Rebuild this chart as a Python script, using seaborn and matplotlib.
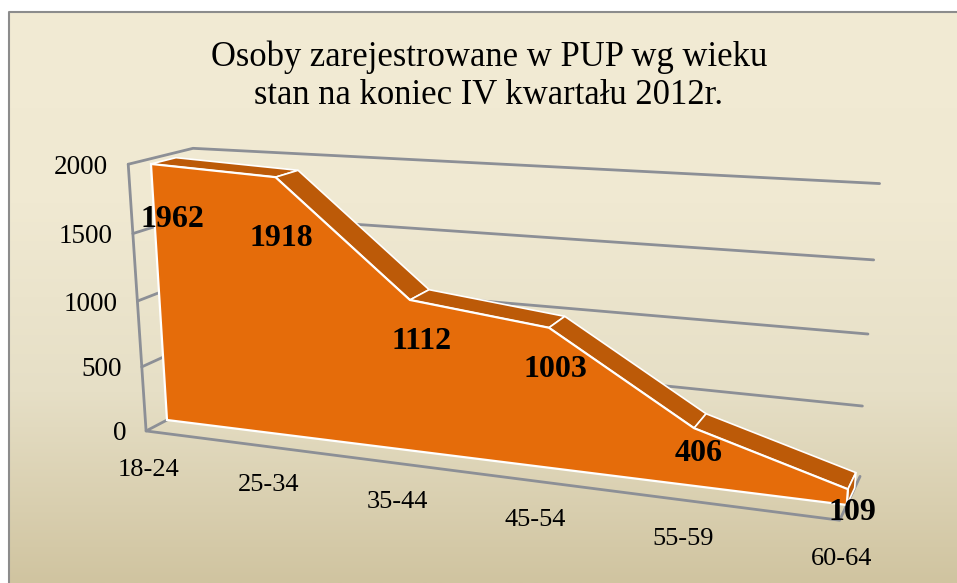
import numpy as np
import pandas as pd
import matplotlib
matplotlib.use("Agg")
import matplotlib.pyplot as plt
import seaborn as sns

sns.set_theme(style="white")
plt.rcParams['font.family'] = ['Liberation Serif', 'DejaVu Serif']

title = "Osoby zarejestrowane w PUP wg wieku\nstan na koniec IV kwartału 2012r."
categories = ["18-24", "25-34", "35-44", "45-54", "55-59", "60-64"]
values = [1962, 1918, 1112, 1003, 406, 109]
value_ticks = [0, 500, 1000, 1500, 2000]

# label nudges in pixels, the original ones were placed by hand
label_offsets = [(21, 56), (6, 61), (12, 42), (7, 42), (5, 25), (4, 23)]

ORANGE = "#E56C0A"
DARK_ORANGE = "#BC5A08"
GRID = "#8C8F96"

# perspective camera fitted to the picture: (category, value/2000, depth) -> pixels
CAMERA = np.array([
    [109.7, -23.9, 28.3, 167.0],
    [1.34, -269.2, -2.0, 420.0],
    [-0.031, -0.05, 0.0253, 1.0],
])
WALL_FRONT = -0.85
AREA_FRONT = 0.0
AREA_BACK = 1.0
WALL_BACK = 1.72


def project(cat, val, depth):
    p = CAMERA @ np.array([cat, val / 2000, depth, 1.0])
    return p[0] / p[2], p[1] / p[2]


def draw_lines(ax, segments, color, lw):
    # segments: list of point lists in (category, value, depth)
    rows = []
    for n, seg in enumerate(segments):
        for k, pt in enumerate(seg):
            px, py = project(*pt)
            rows.append({"seg": n, "order": k, "px": px, "py": py})
    df = pd.DataFrame(rows)
    sns.lineplot(data=df, x="px", y="py", units="seg", estimator=None, sort=False,
                 color=color, lw=lw, ax=ax, legend=False)


def main():
    fig = plt.figure(figsize=(9.57, 5.83), dpi=100, facecolor="white")
    ax = fig.add_axes([0, 0, 1, 1])

    # slide background
    gradient = np.linspace(0, 1, 256).reshape(-1, 1)
    cmap = matplotlib.colors.LinearSegmentedColormap.from_list(
        "bg", ["#F2EBD4", "#F0E9D2", "#E6DFC6", "#D0C4A0"], N=256)
    ax.imshow(gradient, cmap=cmap, aspect="auto", extent=(9, 957, 583, 12), zorder=0)
    ax.plot([9, 9, 957], [583, 12, 12], color="#8C8C8C", lw=1.5, zorder=1)

    last = len(values) - 1

    # walls and gridlines, back lines stop a little short of the last category
    wall = [[(0, v, WALL_FRONT), (0, v, WALL_BACK), (last - 0.02, v, WALL_BACK)] for v in value_ticks[1:]]
    wall.append([(0, 0, WALL_BACK), (0, 0, WALL_FRONT), (last, 0, WALL_FRONT), (last, 0, WALL_BACK)])
    wall.append([(0, 0, WALL_FRONT), (0, 2000, WALL_FRONT)])
    draw_lines(ax, wall, GRID, 2.0)

    # top faces of the 3D area
    cats = list(range(len(values)))
    for a, b in zip(cats[:-1], cats[1:]):
        face = [project(a, values[a], AREA_FRONT), project(b, values[b], AREA_FRONT),
                project(b, values[b], AREA_BACK), project(a, values[a], AREA_BACK)]
        ax.fill(*zip(*face), facecolor=DARK_ORANGE, edgecolor="white", lw=1.2, zorder=3)

    # right end cap
    cap = [project(last, values[last], AREA_FRONT), project(last, values[last], AREA_BACK),
           project(last, 0, AREA_BACK), project(last, 0, AREA_FRONT)]
    ax.fill(*zip(*cap), facecolor=DARK_ORANGE, edgecolor="white", lw=1.2, zorder=3)

    # front face
    front = [project(i, v, AREA_FRONT) for i, v in zip(cats, values)]
    front += [project(last, 0, AREA_FRONT), project(0, 0, AREA_FRONT)]
    ax.fill(*zip(*front), facecolor=ORANGE, edgecolor="white", lw=1.6, zorder=4)

    # value axis labels
    for v in value_ticks:
        px, py = project(0, v, WALL_FRONT)
        ax.text(px - 20, py + 3, str(v), ha="right", va="center", fontsize=19.5, color="black", zorder=6)

    # category labels
    for i, c in enumerate(categories):
        px, py = project(i, 0, WALL_FRONT)
        ax.text(px + 2, py + 39, c, ha="center", va="center", fontsize=19, color="black", zorder=6)

    # data labels
    for i, v in enumerate(values):
        px, py = project(i, v, AREA_FRONT)
        dx, dy = label_offsets[i]
        ax.text(px + dx, py + dy, str(v), ha="center", va="center", fontsize=23,
                fontweight="bold", color="black", zorder=7)

    ax.text(489, 76, title, ha="center", va="center", fontsize=24.9, color="black",
            linespacing=1.2, zorder=6)

    ax.set_xlim(0, 957)
    ax.set_ylim(583, 0)
    ax.axis("off")
    fig.savefig("out.png", dpi=100)
    plt.close(fig)


if __name__ == "__main__":
    main()
